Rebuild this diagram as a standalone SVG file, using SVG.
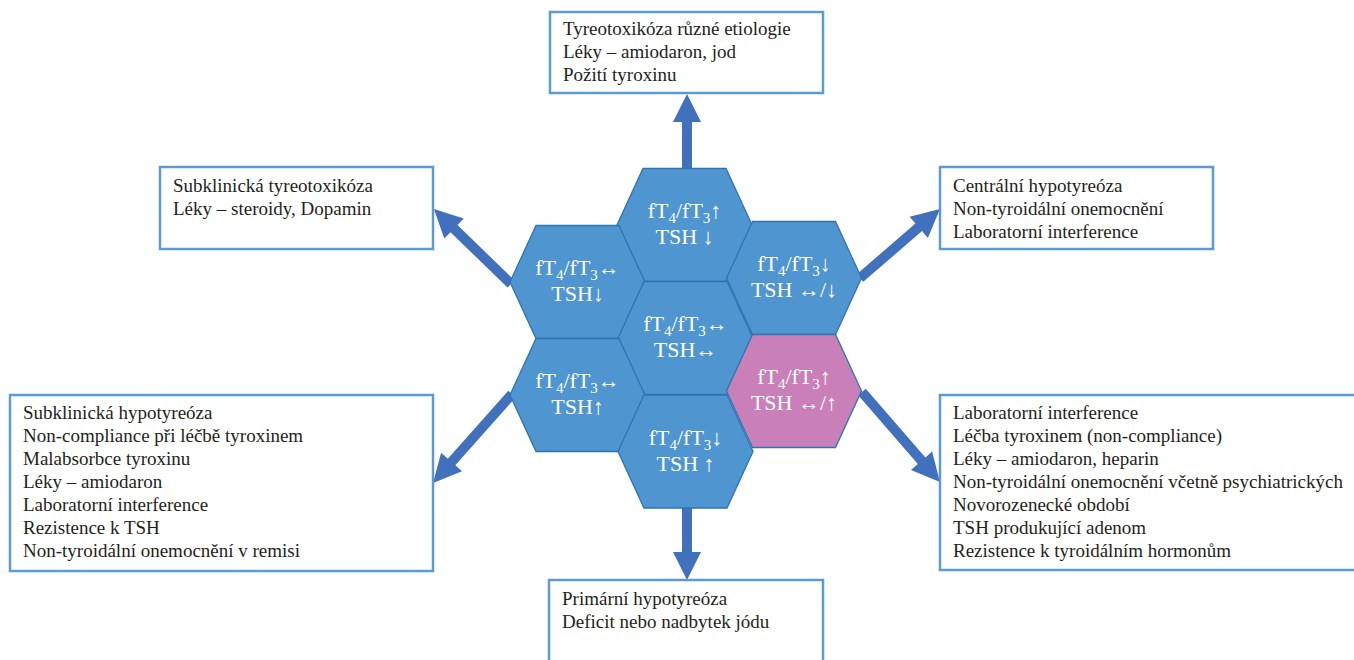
<svg xmlns="http://www.w3.org/2000/svg" xmlns:xlink="http://www.w3.org/1999/xlink" width="1354" height="660" viewBox="0 0 1354 660" font-family="Liberation Serif, Times New Roman, serif">
<style>
.box{fill:#ffffff;stroke:#5B9BD5;stroke-width:2.5}
.bt{font-size:19px;fill:#231F20}
.hb{fill:#4F96D0;stroke:#2E74B5;stroke-width:1.3}
.hp{fill:#C980B8;stroke:#2E74B5;stroke-width:1.3}
.ht{font-size:22px;fill:#ffffff;text-anchor:middle}
.sub{font-size:15px}
.arr{fill:#4170BD}
</style>
<defs>
<polygon id="hex" points="-67.5,0 -41.5,-56.5 41.5,-56.5 67.5,0 41.5,56.5 -41.5,56.5"/>
</defs>
<g id="connectors">
<path class="arr" transform="translate(687,169) rotate(-90)" d="M0,-5 L47,-5 L47,-14 L75,0 L47,14 L47,5 L0,5 Z"/>
<path class="arr" transform="translate(687,507) rotate(90)" d="M0,-5 L45,-5 L45,-14 L73,0 L45,14 L45,5 L0,5 Z"/>
<path class="arr" transform="translate(511,284) rotate(-135.8)" d="M0,-5 L79.5,-5 L79.5,-14 L107.5,0 L79.5,14 L79.5,5 L0,5 Z"/>
<path class="arr" transform="translate(860,278) rotate(-40.8)" d="M0,-5 L77.6,-5 L77.6,-14 L105.6,0 L77.6,14 L77.6,5 L0,5 Z"/>
<path class="arr" transform="translate(512,394) rotate(131.6)" d="M0,-5 L91,-5 L91,-14 L119,0 L91,14 L91,5 L0,5 Z"/>
<path class="arr" transform="translate(862,392) rotate(49.1)" d="M0,-5 L91,-5 L91,-14 L119,0 L91,14 L91,5 L0,5 Z"/>
</g>
<g id="hex-top" transform="translate(684.5,225)">
<use xlink:href="#hex" class="hb"/>
<text class="ht" y="-7">fT<tspan class="sub" dy="5">4</tspan><tspan dy="-5">/fT</tspan><tspan class="sub" dy="5">3</tspan><tspan dy="-5">↑</tspan></text>
<text class="ht" y="19">TSH ↓</text>
</g>
<g id="hex-left-upper" transform="translate(577.5,282)">
<use xlink:href="#hex" class="hb"/>
<text class="ht" y="-7">fT<tspan class="sub" dy="5">4</tspan><tspan dy="-5">/fT</tspan><tspan class="sub" dy="5">3</tspan><tspan dy="-5">↔</tspan></text>
<text class="ht" y="19">TSH↓</text>
</g>
<g id="hex-right-upper" transform="translate(794,278)">
<use xlink:href="#hex" class="hb"/>
<text class="ht" y="-7">fT<tspan class="sub" dy="5">4</tspan><tspan dy="-5">/fT</tspan><tspan class="sub" dy="5">3</tspan><tspan dy="-5">↓</tspan></text>
<text class="ht" y="19">TSH ↔/↓</text>
</g>
<g id="hex-center" transform="translate(685.5,338)">
<use xlink:href="#hex" class="hb"/>
<text class="ht" y="-7">fT<tspan class="sub" dy="5">4</tspan><tspan dy="-5">/fT</tspan><tspan class="sub" dy="5">3</tspan><tspan dy="-5">↔</tspan></text>
<text class="ht" y="19">TSH↔</text>
</g>
<g id="hex-left-lower" transform="translate(577.5,395)">
<use xlink:href="#hex" class="hb"/>
<text class="ht" y="-7">fT<tspan class="sub" dy="5">4</tspan><tspan dy="-5">/fT</tspan><tspan class="sub" dy="5">3</tspan><tspan dy="-5">↔</tspan></text>
<text class="ht" y="19">TSH↑</text>
</g>
<g id="hex-pink" transform="translate(794,391)">
<use xlink:href="#hex" class="hp"/>
<text class="ht" y="-7">fT<tspan class="sub" dy="5">4</tspan><tspan dy="-5">/fT</tspan><tspan class="sub" dy="5">3</tspan><tspan dy="-5">↑</tspan></text>
<text class="ht" y="19">TSH ↔/↑</text>
</g>
<g id="hex-bottom" transform="translate(685.5,451.5)">
<use xlink:href="#hex" class="hb"/>
<text class="ht" y="-7">fT<tspan class="sub" dy="5">4</tspan><tspan dy="-5">/fT</tspan><tspan class="sub" dy="5">3</tspan><tspan dy="-5">↓</tspan></text>
<text class="ht" y="19">TSH ↑</text>
</g>
<g id="box-top">
<rect class="box" x="550" y="12" width="273" height="81"/>
<text class="bt" x="563" y="35">Tyreotoxikóza různé etiologie</text>
<text class="bt" x="563" y="58">Léky – amiodaron, jod</text>
<text class="bt" x="563" y="81">Požití tyroxinu</text>
</g>
<g id="box-top-left">
<rect class="box" x="160" y="167" width="273" height="82"/>
<text class="bt" x="173" y="192">Subklinická tyreotoxikóza</text>
<text class="bt" x="173" y="215">Léky – steroidy, Dopamin</text>
</g>
<g id="box-top-right">
<rect class="box" x="940" y="167" width="273" height="82"/>
<text class="bt" x="953" y="192">Centrální hypotyreóza</text>
<text class="bt" x="953" y="215">Non-tyroidální onemocnění</text>
<text class="bt" x="953" y="238">Laboratorní interference</text>
</g>
<g id="box-bottom-left">
<rect class="box" x="10" y="395" width="423" height="176"/>
<text class="bt" x="23" y="419">Subklinická hypotyreóza</text>
<text class="bt" x="23" y="442">Non-compliance při léčbě tyroxinem</text>
<text class="bt" x="23" y="465">Malabsorbce tyroxinu</text>
<text class="bt" x="23" y="488">Léky – amiodaron</text>
<text class="bt" x="23" y="511">Laboratorní interference</text>
<text class="bt" x="23" y="534">Rezistence k TSH</text>
<text class="bt" x="23" y="557">Non-tyroidální onemocnění v remisi</text>
</g>
<g id="box-bottom-right">
<rect class="box" x="940" y="395" width="430" height="175"/>
<text class="bt" x="953" y="419">Laboratorní interference</text>
<text class="bt" x="953" y="442">Léčba tyroxinem (non-compliance)</text>
<text class="bt" x="953" y="465">Léky – amiodaron, heparin</text>
<text class="bt" x="953" y="488">Non-tyroidální onemocnění včetně psychiatrických</text>
<text class="bt" x="953" y="511">Novorozenecké období</text>
<text class="bt" x="953" y="534">TSH produkující adenom</text>
<text class="bt" x="953" y="557">Rezistence k tyroidálním hormonům</text>
</g>
<g id="box-bottom">
<rect class="box" x="549" y="580" width="274" height="100"/>
<text class="bt" x="562" y="605">Primární hypotyreóza</text>
<text class="bt" x="562" y="628">Deficit nebo nadbytek jódu</text>
</g>
</svg>
